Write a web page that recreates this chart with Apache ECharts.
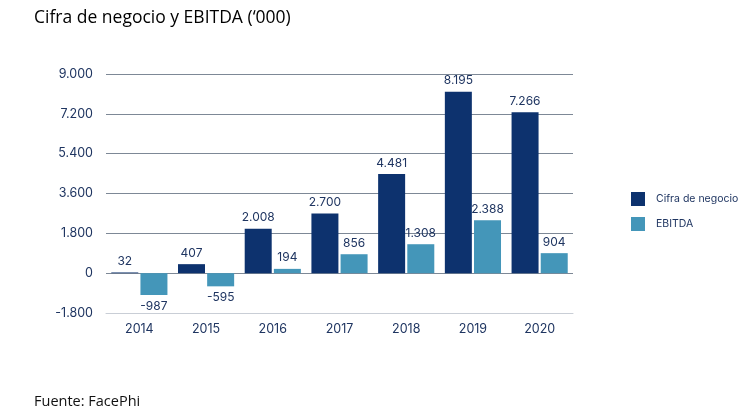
<!DOCTYPE html>
<html>
<head>
<meta charset="utf-8">
<script src="https://cdn.jsdelivr.net/npm/echarts@6/dist/echarts.min.js"></script>
<style>
html,body{margin:0;padding:0;background:#fff;}
#c{width:755px;height:414px;}
</style>
</head>
<body>
<div id="c"></div>
<script>
const categories = ['2014','2015','2016','2017','2018','2019','2020'];
const cifraNegocio = [32, 407, 2008, 2700, 4481, 8195, 7266];
const ebitda = [-987, -595, 194, 856, 1308, 2388, 904];
const seriesNames = ['Cifra de negocio', 'EBITDA'];
const titleText = 'Cifra de negocio y EBITDA (\u2018000)';
const sourceText = 'Fuente: FacePhi';

function fmt(v){
  const s = Math.abs(v).toString().replace(/\B(?=(\d{3})+(?!\d))/g, '.');
  return (v < 0 ? '-' : '') + s;
}
function toData(arr){
  return arr.map(v => ({value: v, label: {position: v < 0 ? 'bottom' : 'top'}}));
}

const chart = echarts.init(document.getElementById('c'));
const labelStyle = {show: true, color: '#1f3561', fontSize: 12, fontFamily: 'Inter', distance: 5,
  formatter: p => fmt(p.value)};
chart.setOption({
  animation: false,
  textStyle: {fontFamily: 'Inter'},
  title: [
    {text: titleText, left: 29, top: 4, textStyle: {fontFamily: 'Open Sans', fontSize: 17.5, fontWeight: 'normal', color: '#000'}},
    {text: sourceText, left: 29, top: 389, textStyle: {fontFamily: 'Open Sans', fontSize: 14.5, fontWeight: 'normal', color: '#111'}}
  ],
  legend: {
    orient: 'vertical', left: 626, top: 187, itemWidth: 14, itemHeight: 14, itemGap: 11,
    icon: 'rect',
    textStyle: {fontSize: 10.5, color: '#1f3561', fontFamily: 'Inter', padding: [0, 0, 0, 6]},
    data: seriesNames
  },
  grid: {left: 106, right: 182, top: 74, bottom: 101},
  xAxis: {
    type: 'category', data: categories,
    axisLine: {onZero: false, lineStyle: {color: '#c9ced6', width: 1}},
    axisTick: {show: false},
    axisLabel: {color: '#1f3561', fontSize: 12.5, margin: 10, fontFamily: 'Inter'}
  },
  yAxis: {
    type: 'value', min: -1800, max: 9000, interval: 1800,
    axisLine: {show: false}, axisTick: {show: false},
    axisLabel: {color: '#1f3561', fontSize: 12.5, margin: 13, formatter: v => fmt(v), fontFamily: 'Inter'},
    splitLine: {lineStyle: {color: '#7d8896', width: 1}}
  },
  series: [
    {name: seriesNames[0], type: 'bar', data: toData(cifraNegocio), barWidth: 27, barGap: '8%',
     itemStyle: {color: '#0d326e'}, label: labelStyle},
    {name: seriesNames[1], type: 'bar', data: toData(ebitda), barWidth: 27, barGap: '8%',
     itemStyle: {color: '#4496b9'}, label: labelStyle}
  ]
});
</script>
</body>
</html>
